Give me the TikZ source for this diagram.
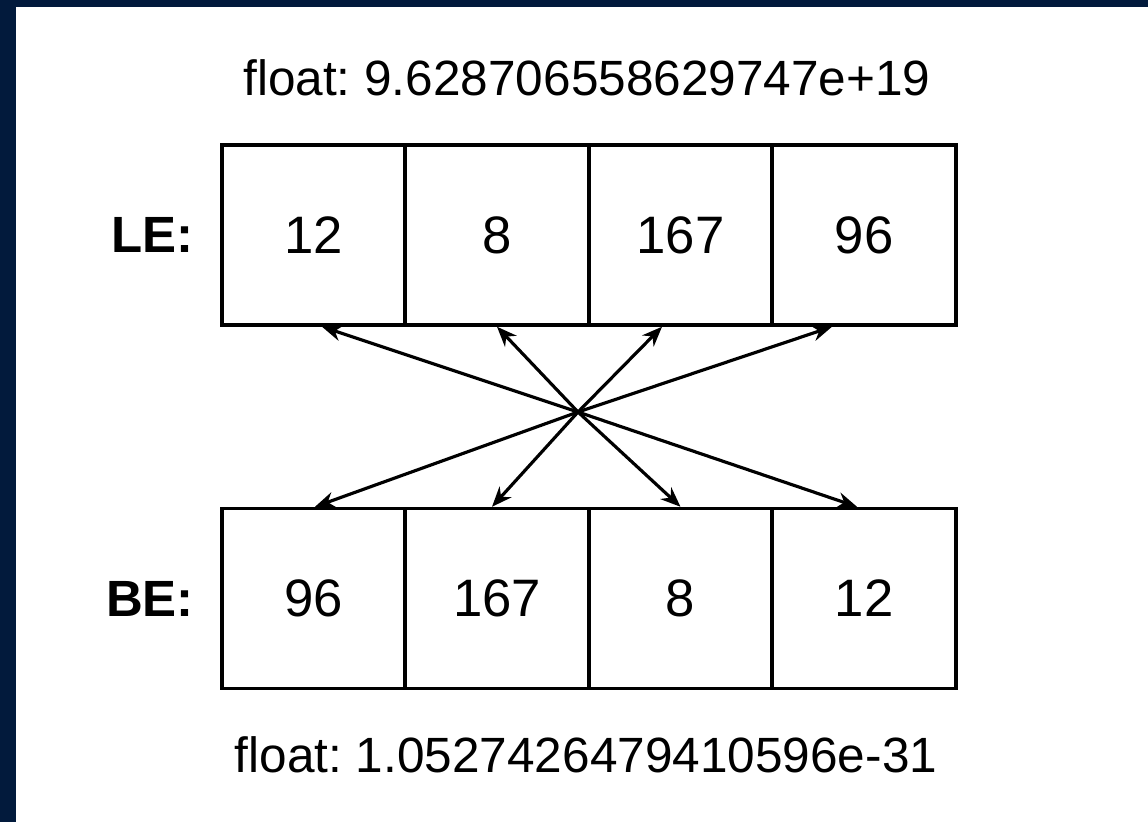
\documentclass[tikz,border=0pt]{standalone}
\usepackage{fontspec}
\setmainfont{Liberation Sans}
\usetikzlibrary{arrows.meta}
\definecolor{fondo}{HTML}{021A3C}
\frenchspacing
\tikzset{
    celda/.style={draw, line width=2pt, minimum width=3.67cm, minimum height=3.6cm,
        inner sep=0pt, font=\fontsize{30}{36}\selectfont},
    flecha/.style={line width=1.8pt, -{Stealth[length=0.4cm, width=0.32cm]}},
    etiqueta/.style={anchor=east, font=\fontsize{29}{34}\selectfont\bfseries},
    valor/.style={font=\fontsize{28.2}{34}\selectfont}
}
\begin{document}
\begin{tikzpicture}[x=0.02cm, y=-0.02cm]
    \fill[fondo] (0,0) rectangle (1148,822);
    \fill[white] (16,7) rectangle (1148,822);
    \useasboundingbox (0,0) rectangle (1148,822);

    % Celdas little endian y big endian
    \foreach \v [count=\i] in {12,8,167,96} {
        \node[celda] (le\i) at (130+183.5*\i, 235) {\v};
    }
    \foreach \v [count=\i] in {96,167,8,12} {
        \node[celda] (be\i) at (130+183.5*\i, 598.5) {\v};
    }
    \node[etiqueta] (etle) at ([xshift=-0.4cm]le1.west) {LE:};
    \node[etiqueta] (etbe) at ([xshift=-0.4cm]be1.west) {BE:};

    % Valores como float
    \node[valor] (flotle) at (587,78)  {float: 9.628706558629747e+19};
    \node[valor] (flotbe) at (586,755) {float: 1.0527426479410596e-31};

    % Flechas desde el cruce
    \coordinate (cruce) at (578,412);
    \foreach \i/\s in {1/0.17, 2/0, 3/-0.37, 4/-0.64} {
        \draw[flecha] (cruce) -- ([xshift=\s cm]le\i.south);
    }
    \foreach \i/\s in {1/0.03, 2/-0.1, 3/0, 4/-0.14} {
        \draw[flecha] (cruce) -- ([xshift=\s cm]be\i.north);
    }
\end{tikzpicture}
\end{document}
